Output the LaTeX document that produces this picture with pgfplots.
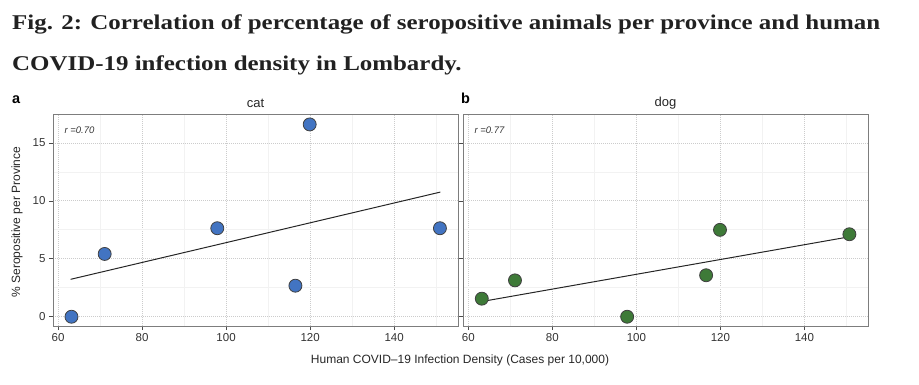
\documentclass[border=0pt]{standalone}
\usepackage{graphicx}
\usepackage{pgfplots}
\pgfplotsset{compat=1.18}
\usepackage{fontspec}
\setmainfont{Liberation Sans}
\newfontfamily\titlefont{Liberation Serif}
\definecolor{catblue}{RGB}{66,116,194}
\definecolor{doggreen}{RGB}{62,122,56}
\definecolor{framegray}{RGB}{125,125,125}
\newlength\tlen
\pgfplotsset{
  panel/.style={
    scale only axis, width=405pt, height=212pt,
    xmin=58.8, xmax=155.2, ymin=-0.8, ymax=17.5,
    xtick={60,80,100,120,140}, ytick={0,5,10,15},
    minor xtick={70,90,110,130,150}, minor ytick={2.5,7.5,12.5},
    grid=both,
    major grid style={dash pattern=on 0.8pt off 1.2pt, gray!40, line width=0.8pt},
    minor grid style={gray!10, line width=0.8pt},
    tick align=outside, xtick pos=bottom, ytick pos=left,
    major tick length=4pt, minor tick length=0pt,
    tick style={black!70, line width=0.7pt},
    axis line style={framegray, line width=0.9pt},
    ticklabel style={font=\fontsize{11.5}{11.5}\selectfont, text=black!80},
    /pgf/number format/assume math mode=true,
    clip=false,
  },
  catmark/.style={only marks, mark=*, mark size=6.5pt, mark options={fill=catblue, draw=black!75, line width=0.8pt}},
  dogmark/.style={only marks, mark=*, mark size=6.5pt, mark options={fill=doggreen, draw=black!75, line width=0.8pt}},
}
\begin{document}
\settowidth\tlen{\titlefont\bfseries\fontsize{21}{21}\selectfont Fig. 2: Correlation of percentage of seropositive animals per province and human}%
\pgfmathsetmacro\tsc{868pt/\tlen}%
\begin{tikzpicture}[x=1pt,y=1pt]
\path[use as bounding box] (0,0) rectangle (919,384);
\node[anchor=base west, inner sep=0] at (12,355) {\scalebox{\tsc}[1]{\titlefont\bfseries\fontsize{21}{21}\selectfont\color{black!87}Fig. 2: Correlation of percentage of seropositive animals per province and human}};
\node[anchor=base west, inner sep=0] at (12,314) {\scalebox{\tsc}[1]{\titlefont\bfseries\fontsize{21}{21}\selectfont\color{black!87}COVID-19 infection density in Lombardy.}};

% panel a
\begin{axis}[panel, at={(53pt,58pt)}, anchor=south west]
\addplot[black!85, line width=1pt, no marks] coordinates {(63,3.23) (151,10.76)};
\addplot[catmark] coordinates {(63.2,0) (71.1,5.42) (97.9,7.64) (116.5,2.68) (119.9,16.6) (150.9,7.64)};
\end{axis}

% panel b
\begin{axis}[panel, at={(463.3pt,58pt)}, anchor=south west, yticklabels={}]
\addplot[black!85, line width=1pt, no marks] coordinates {(63,1.3) (151,6.92)};
\addplot[dogmark] coordinates {(63.2,1.56) (71.1,3.14) (97.8,0) (116.6,3.58) (119.9,7.5) (150.7,7.12)};
\end{axis}

% texts
\node[anchor=base west, inner sep=0, font=\bfseries\fontsize{14.5}{14.5}\selectfont] at (12,281) {a};
\node[anchor=base west, inner sep=0, font=\bfseries\fontsize{14.5}{14.5}\selectfont] at (461,281) {b};
\node[font=\fontsize{13}{13}\selectfont, text=black!85] at (255.5,281) {cat};
\node[font=\fontsize{13}{13}\selectfont, text=black!85] at (665.5,281) {dog};
\node[anchor=west, font=\itshape\fontsize{9.5}{9.5}\selectfont, text=black!80] at (61,254) {r =0.70};
\node[anchor=west, font=\itshape\fontsize{9.5}{9.5}\selectfont, text=black!80] at (471,254) {r =0.77};
\node[font=\fontsize{12}{12}\selectfont, text=black!85] at (460,24) {Human COVID–19 Infection Density (Cases per 10,000)};
\node[rotate=90, font=\fontsize{12}{12}\selectfont, text=black!85] at (17,162) {\% Seropositive per Province};
\end{tikzpicture}
\end{document}
